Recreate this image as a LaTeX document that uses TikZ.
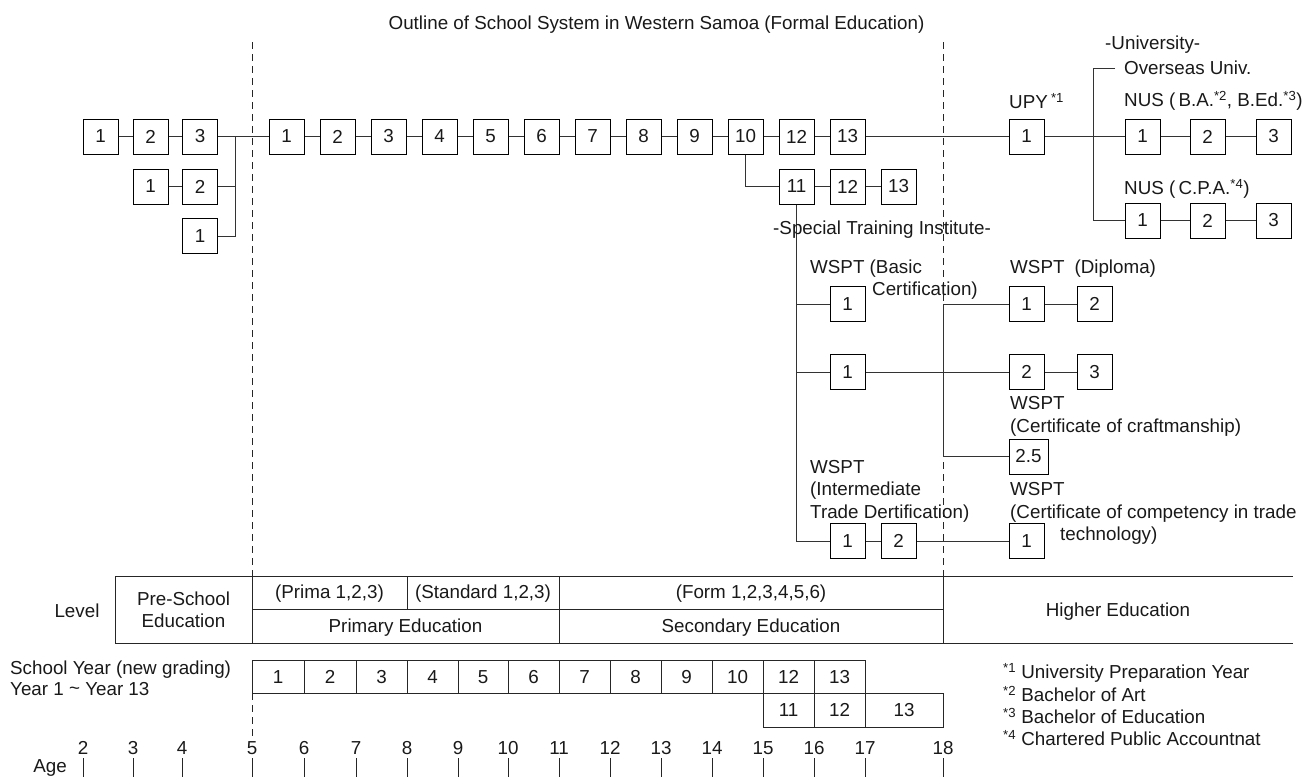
\documentclass[tikz,border=0pt]{standalone}
\usepackage{fontspec}
\setmainfont{Liberation Sans}
\newcommand{\dfont}{\fontsize{18.8}{22}\selectfont}
\begin{document}
\begin{tikzpicture}[x=1pt,y=-1pt,
  tx/.style={font=\dfont, text=black!90, text height=13.5pt, text depth=0pt, inner sep=0pt},
  lt/.style={tx, anchor=west},
  bx/.style={draw=black, line width=1pt, minimum width=35pt, minimum height=35pt, inner sep=0pt, font=\dfont, text=black!90},
  ln/.style={line width=1pt, draw=black!80},
  tl/.style={line width=1pt, draw=black!85},
  dsh/.style={line width=1pt, draw=black!85, dash pattern=on 7pt off 5pt}]
\useasboundingbox (0,0) rectangle (1305,777);
% title
\node[tx] (title) at (656.5,23) {Outline of School System in Western Samoa (Formal Education)};
% dashed age lines
\draw[dsh] (252,42) -- (252,576);
\draw[dsh] (252,693) -- (252,740);
\draw[dsh] (943,42) -- (943,576);
% pre-school
\node[bx] (a1) at (100.5,136.5) {1};
\node[bx] (a2) at (150.5,136.5) {2};
\node[bx] (a3) at (200,136.5) {3};
\node[bx] (b1) at (150.5,186.5) {1};
\node[bx] (b2) at (200,186.5) {2};
\node[bx] (c1) at (200,236) {1};
\coordinate (j0) at (235,136.5);
\draw[ln] (a1) -- (a2);
\draw[ln] (a2) -- (a3);
\draw[ln] (a3.east) -- (j0);
\draw[ln] (b1) -- (b2);
\draw[ln] (b2.east) -- (b2.east -| j0);
\draw[ln] (j0) -- (j0 |- c1) -- (c1.east);
% primary / secondary
\node[bx] (p1) at (286.5,136.5) {1};
\node[bx] (p2) at (337.5,136.5) {2};
\node[bx] (p3) at (388.5,136.5) {3};
\node[bx] (p4) at (439.5,136.5) {4};
\node[bx] (p5) at (490.5,136.5) {5};
\node[bx] (p6) at (541.5,136.5) {6};
\node[bx] (p7) at (592.5,136.5) {7};
\node[bx] (p8) at (643.5,136.5) {8};
\node[bx] (p9) at (694.5,136.5) {9};
\node[bx] (p10) at (745.5,136.5) {10};
\node[bx] (p12) at (796.5,136.5) {12};
\node[bx] (p13) at (847.5,136.5) {13};
\draw[ln] (j0) -- (p1.west);
\draw[ln] (p1) -- (p2);
\draw[ln] (p2) -- (p3);
\draw[ln] (p3) -- (p4);
\draw[ln] (p4) -- (p5);
\draw[ln] (p5) -- (p6);
\draw[ln] (p6) -- (p7);
\draw[ln] (p7) -- (p8);
\draw[ln] (p8) -- (p9);
\draw[ln] (p9) -- (p10);
\draw[ln] (p10) -- (p12);
\draw[ln] (p12) -- (p13);
\node[bx] (q11) at (796.5,186.5) {11};
\node[bx] (q12) at (847.5,186.5) {12};
\node[bx] (q13) at (898.5,186.5) {13};
\draw[ln] (p10.south) |- (q11.west);
\draw[ln] (q11) -- (q12);
\draw[ln] (q12) -- (q13);
% university
\node[bx] (upy) at (1026.5,136.5) {1};
\node[lt] (upyl) at (1009,102) {UPY\,\textsuperscript{*1}};
\draw[ln] (p13) -- (upy);
\node[bx] (n1) at (1142.5,136.5) {1};
\node[bx] (n2) at (1207.5,136.5) {2};
\node[bx] (n3) at (1273.5,136.5) {3};
\node[bx] (m1) at (1142.5,220.5) {1};
\node[bx] (m2) at (1207.5,220.5) {2};
\node[bx] (m3) at (1273.5,220.5) {3};
\coordinate (jt) at (1093,68);
\coordinate (jtr) at (1115,68);
\draw[ln] (upy) -- (n1);
\draw[ln] (n1) -- (n2);
\draw[ln] (n2) -- (n3);
\draw[ln] (m1) -- (m2);
\draw[ln] (m2) -- (m3);
\draw[ln] (jtr) -- (jt) |- (m1.west);
\node[lt] (univ) at (1105,43) {-University-};
\node[lt] (overs) at (1124,68) {Overseas Univ.};
\node[lt] (nusba) at (1124,100) {NUS (\,B.A.\textsuperscript{*2}, B.Ed.\textsuperscript{*3})};
\node[lt] (nuscpa) at (1124,188) {NUS (\,C.P.A.\textsuperscript{*4})};
% special training
\node[bx] (s1) at (847.5,304) {1};
\node[bx] (t1) at (847.5,372) {1};
\node[bx] (t2) at (1026.5,372) {2};
\node[bx] (t3) at (1094.5,372) {3};
\node[bx] (d1) at (1026.5,304) {1};
\node[bx] (d2) at (1094.5,304) {2};
\node[bx, minimum width=39pt] (e1) at (1028.5,456.5) {2.5};
\node[bx] (u1) at (847.5,541) {1};
\node[bx] (u2) at (898.5,541) {2};
\node[bx] (v1) at (1026.5,541) {1};
\coordinate (k1) at (943,304);
\draw[ln] (q11.south) |- (u1.west);
\draw[ln] (q11.south |- s1) -- (s1.west);
\draw[ln] (q11.south |- t1) -- (t1.west);
\draw[ln] (t1) -- (t2);
\draw[ln] (t2) -- (t3);
\draw[ln] (d1) -- (d2);
\draw[ln] (k1) -- (d1.west);
\draw[ln] (k1) |- (e1.west);
\draw[ln] (u1) -- (u2);
\draw[ln] (u2) -- (v1);
\node[lt] (sti) at (773,228) {-Special Training Institute-};
\node[lt] (wb1) at (810,267) {WSPT (Basic};
\node[lt] (wb2) at (872,289) {Certification)};
\node[lt] (wd) at (1010,267) {WSPT\hspace{10pt}(Diploma)};
\node[lt] (wc1) at (1010,403) {WSPT};
\node[lt] (wc2) at (1010,426) {(Certificate of craftmanship)};
\node[lt] (wi1) at (810,467) {WSPT};
\node[lt] (wi2) at (810,489) {(Intermediate};
\node[lt] (wi3) at (810,512) {Trade Dertification)};
\node[lt] (wt1) at (1010,489) {WSPT};
\node[lt] (wt2) at (1010,512) {(Certificate of competency in trade};
\node[lt] (wt3) at (1060,534) {technology)};
% level table
\draw[tl] (115,576) -- (1293,576);
\draw[tl] (115,643) -- (1293,643);
\draw[tl] (252,609) -- (943,609);
\foreach \x in {115,252,559,943} \draw[tl] (\x,576) -- (\x,643);
\draw[tl] (407,576) -- (407,609);
\node[tx] (level) at (77,611) {Level};
\node[tx] (pre1) at (183.5,599) {Pre-School};
\node[tx] (pre2) at (183.5,621) {Education};
\node[tx] (prima) at (329.5,592) {(Prima 1,2,3)};
\node[tx] (stand) at (483,592) {(Standard 1,2,3)};
\node[tx] (prim) at (405.5,626) {Primary Education};
\node[tx] (form) at (751,592) {(Form 1,2,3,4,5,6)};
\node[tx] (sec) at (751,626) {Secondary Education};
\node[tx] (high) at (1118,610) {Higher Education};
% school year
\node[lt] (sy1) at (10,668) {School Year (new grading)};
\node[lt] (sy2) at (10,689) {Year 1 \raisebox{1pt}{\textasciitilde} Year 13};
\draw[tl] (252,660) rectangle (865,693);
\foreach \x in {304,356,407,458,508,559,610,661,712} \draw[tl] (\x,660) -- (\x,693);
\draw[tl] (865,693) -- (943,693) -- (943,727) -- (763,727) -- (763,660);
\draw[tl] (252,693) -- (865,693);
\draw[tl] (814,660) -- (814,727);
\draw[tl] (865,693) -- (865,727);
\foreach \x/\t [count=\i] in {278/1,330/2,381.5/3,432.5/4,483/5,533.5/6,584.5/7,635.5/8,686.5/9,737.5/10,788.5/12,839.5/13}
  \node[tx] (yr\i) at (\x,676.5) {\t};
\node[tx] (yb11) at (788.5,710) {11};
\node[tx] (yb12) at (839.5,710) {12};
\node[tx] (yb13) at (904,710) {13};
% footnotes
\node[lt] (fn1) at (1003,672) {\textsuperscript{*1} University Preparation Year};
\node[lt] (fn2) at (1003,695) {\textsuperscript{*2} Bachelor of Art};
\node[lt] (fn3) at (1003,717) {\textsuperscript{*3} Bachelor of Education};
\node[lt] (fn4) at (1003,739) {\textsuperscript{*4} Chartered Public Accountnat};
% age axis
\node[tx] (age) at (50,766) {Age};
\foreach \x/\a in {83/2,133/3,182/4,252/5,304/6,356/7,407/8,458/9,508/10,559/11,610/12,661/13,712/14,763/15,814/16,865/17,943/18} {
  \draw[tl] (\x,758) -- (\x,777);
  \node[tx] (age\a) at (\x,748) {\a};
}
\end{tikzpicture}
\end{document}
